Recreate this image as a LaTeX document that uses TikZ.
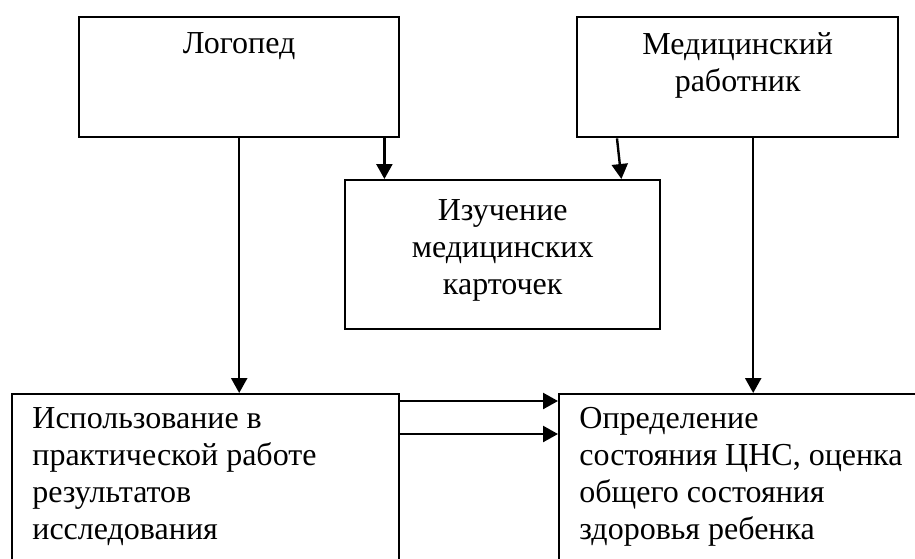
\documentclass[tikz,border=0pt]{standalone}
\usepackage{fontspec}
\setmainfont{Liberation Serif}
\usetikzlibrary{arrows.meta}
\usetikzlibrary{positioning}
\tikzstyle{box}=[draw, line width=1.2pt, inner sep=0pt, anchor=north west]
\tikzstyle{txt}=[inner sep=0pt, font=\fontsize{16}{18.5}\selectfont]
\tikzstyle{arr}=[line width=1.2pt, -{Triangle[length=7.5pt,width=8pt]}]

\begin{document}
\begin{tikzpicture}[x=0.5pt, y=-0.5pt]
        \useasboundingbox (0,0) rectangle (915,558);
        \clip (0,0) rectangle (915,558);
        % boxes
        \node[box, minimum width=160pt, minimum height=60pt] (logoped) at (78,16) {};
        \node[box, minimum width=160.5pt, minimum height=60pt] (medic) at (576,16) {};
        \node[box, minimum width=157.5pt, minimum height=74.5pt] (cards) at (344,179) {};
        \node[box, minimum width=193.5pt, minimum height=100pt] (usage) at (11,393) {};
        \node[box, minimum width=200pt, minimum height=100pt] (state) at (558,393) {};
        % texts (base = last line)
        \node[txt, anchor=base] (logopedtxt) at ([yshift=-18.5pt]logoped.north) {Логопед};
        \node[txt, anchor=base, align=center] (medictxt) at ([yshift=-37.5pt]medic.north) {Медицинский\\работник};
        \node[txt, anchor=base, align=center] (cardstxt) at ([yshift=-57.5pt]cards.north) {Изучение\\медицинских\\карточек};
        \node[txt, anchor=base west, align=left] (usagetxt) at ([xshift=10.5pt, yshift=-73pt]usage.north west) {Использование в\\практической работе\\результатов\\исследования};
        \node[txt, anchor=base west, align=left] (statetxt) at ([xshift=10.5pt, yshift=-73pt]state.north west) {Определение\\состояния ЦНС, оценка\\общего состояния\\здоровья ребенка};
        % arrows
        \draw[arr] (logoped.south) -- (logoped.south |- usage.north);
        \draw[arr] ([xshift=-8pt]logoped.south east) -- ([xshift=-8pt]logoped.south east |- cards.north);
        \draw[arr] ([xshift=20.5pt]medic.south west) -- ([xshift=-20pt]cards.north east);
        \draw[arr] ([xshift=7.75pt]medic.south) -- ([xshift=7.75pt]medic.south |- state.north);
        \draw[arr] ([yshift=-4pt]usage.north east) -- ([yshift=-4pt]usage.north east -| state.west);
        \draw[arr] ([yshift=-20.5pt]usage.north east) -- ([yshift=-20.5pt]usage.north east -| state.west);
    \end{tikzpicture}
\end{document}
